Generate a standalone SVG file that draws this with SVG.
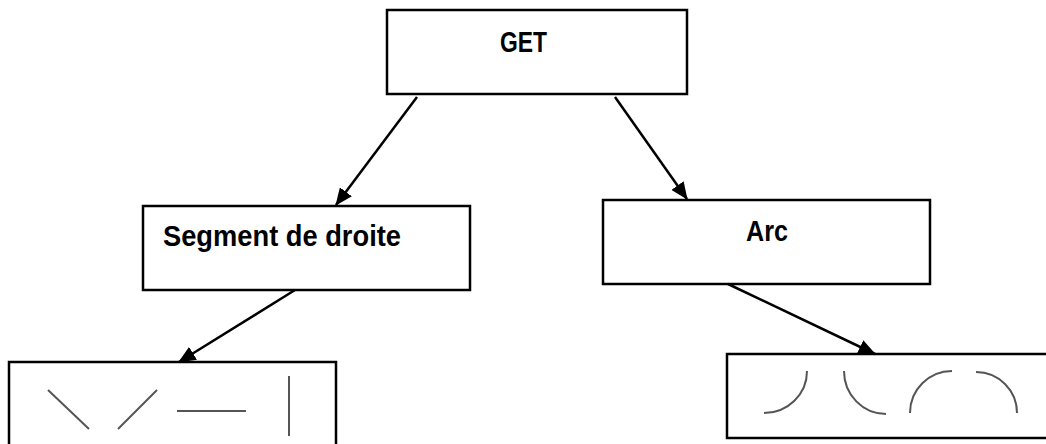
<svg xmlns="http://www.w3.org/2000/svg" width="1046" height="444" viewBox="0 0 1046 444">
<style>
.box{fill:#fff;stroke:#000;stroke-width:2.5}
.lbl{font-family:"Liberation Sans",Arial,sans-serif;font-weight:bold;font-size:29px;fill:#000}
.conn{stroke:#000;stroke-width:2.5;fill:none;marker-end:url(#ah)}
.shape{stroke:#555;stroke-width:2;fill:none}
</style>
<defs>
<marker id="ah" markerWidth="7" markerHeight="6" refX="6.6" refY="3" orient="auto" markerUnits="strokeWidth">
<path d="M0,0 L7,3 L0,6 z" fill="#000"/>
</marker>
</defs>
<rect width="1046" height="444" fill="#fff"/>
<g id="get">
<rect class="box" x="387" y="10" width="300" height="84"/>
<text class="lbl" x="500" y="52" textLength="47" lengthAdjust="spacingAndGlyphs">GET</text>
</g>
<g id="segment">
<rect class="box" x="143" y="206" width="327" height="84"/>
<text class="lbl" x="163" y="246" textLength="238" lengthAdjust="spacingAndGlyphs">Segment de droite</text>
</g>
<g id="arc">
<rect class="box" x="603" y="200" width="327" height="84"/>
<text class="lbl" x="746" y="241" textLength="42" lengthAdjust="spacingAndGlyphs">Arc</text>
</g>
<g id="segments-examples">
<rect class="box" x="9" y="362" width="327" height="100"/>
<line class="shape" x1="48" y1="390" x2="89" y2="429"/>
<line class="shape" x1="118" y1="429" x2="157" y2="390"/>
<line class="shape" x1="177" y1="411" x2="246" y2="411"/>
<line class="shape" x1="289" y1="376" x2="289" y2="436"/>
</g>
<g id="arcs-examples">
<rect class="box" x="727" y="354" width="330" height="84"/>
<path class="shape" d="M807,371 A43,42 0 0 1 764,413"/>
<path class="shape" d="M844,371 A42,43 0 0 0 886,414"/>
<path class="shape" d="M910,413 A42,42 0 0 1 952,371"/>
<path class="shape" d="M976,372 A41,41 0 0 1 1017,413"/>
</g>
<g id="connectors">
<line class="conn" x1="417" y1="97" x2="336" y2="205"/>
<line class="conn" x1="615" y1="97" x2="687" y2="199"/>
<line class="conn" x1="295" y1="290" x2="179" y2="362"/>
<line class="conn" x1="728" y1="284" x2="875" y2="354"/>
</g>
</svg>
